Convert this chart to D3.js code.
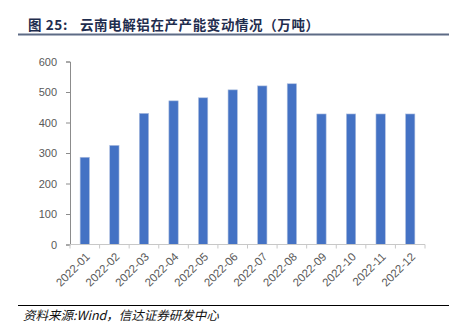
<!DOCTYPE html>
<html>
<head>
<meta charset="utf-8">
<script src="https://cdn.jsdelivr.net/npm/d3@7"></script>
<style>
  html, body { margin: 0; padding: 0; background: #fff; }
  svg { display: block; }
</style>
</head>
<body>
<svg id="chart" width="467" height="326"></svg>
<script>
// Monthly operating capacity of electrolytic aluminium in Yunnan (10k tonnes)
const months = ["2022-01","2022-02","2022-03","2022-04","2022-05","2022-06",
                "2022-07","2022-08","2022-09","2022-10","2022-11","2022-12"];
const capacity = [286, 325, 430, 471, 481, 507, 520, 527, 428, 428, 428, 428];
const yTicks = [0, 100, 200, 300, 400, 500, 600];

const svg = d3.select("#chart");
const cjk = "'Noto Sans CJK SC', 'Noto Sans', sans-serif";
const latin = "'Liberation Sans', Arial, sans-serif";

// Title and rule under it
const title = svg.append("text")
  .attr("x", 28).attr("y", 30)
  .attr("font-family", cjk)
  .attr("font-size", 13.5)
  .attr("font-weight", "bold")
  .attr("fill", "#1f2d4e");
title.append("tspan").attr("letter-spacing", 0.6).text("图 25:");
title.append("tspan").attr("dx", 12).attr("letter-spacing", 0.6)
  .text("云南电解铝在产产能变动情况（万吨）");
svg.append("line")
  .attr("x1", 18).attr("x2", 449).attr("y1", 34.5).attr("y2", 34.5)
  .attr("stroke", "#5d6b85").attr("stroke-width", 2);

// Plot area
const x = d3.scaleBand().domain(months).range([70, 425]).paddingInner(0.685).paddingOuter(0.3425);
const y = d3.scaleLinear().domain([0, 600]).range([244.5, 61.5]);

// Y axis
const yAxis = svg.append("g")
  .attr("transform", "translate(70,0)")
  .call(d3.axisLeft(y).tickValues(yTicks).tickSize(4).tickPadding(9));
yAxis.select(".domain").attr("stroke", "#8c8c8c");
yAxis.selectAll(".tick line").attr("stroke", "#8c8c8c");
yAxis.selectAll(".tick text")
  .attr("font-family", latin).attr("font-size", 11).attr("fill", "#595959");

// Bars
svg.append("g").selectAll("rect")
  .data(capacity)
  .join("rect")
  .attr("x", (d, i) => x(months[i]))
  .attr("width", x.bandwidth())
  .attr("y", d => y(d))
  .attr("height", d => y(0) - y(d))
  .attr("fill", "#4472c4")
  .attr("stroke", "#aebfe0")
  .attr("stroke-width", 0.6);

// X axis with ticks at category boundaries
const step = x.step();
const xAxisG = svg.append("g").attr("transform", `translate(0,${y(0)})`);
xAxisG.append("line")
  .attr("x1", 70).attr("x2", 425).attr("y1", 0).attr("y2", 0)
  .attr("stroke", "#c8c8c8");
const bounds = d3.range(months.length + 1).map(i => 70 + i * step);
xAxisG.selectAll("line.tk")
  .data(bounds)
  .join("line")
  .attr("class", "tk")
  .attr("x1", d => d).attr("x2", d => d)
  .attr("y1", 0).attr("y2", 4)
  .attr("stroke", "#c8c8c8");
xAxisG.selectAll("text.lbl")
  .data(months)
  .join("text")
  .attr("class", "lbl")
  .attr("transform", d => `translate(${x(d) + x.bandwidth() / 2 + 3},${10}) rotate(-45)`)
  .attr("text-anchor", "end")
  .attr("dy", "0.35em")
  .attr("font-family", latin).attr("font-size", 11.5).attr("fill", "#595959")
  .text(d => d);

// Source footer
svg.append("line")
  .attr("x1", 18).attr("x2", 449).attr("y1", 305.5).attr("y2", 305.5)
  .attr("stroke", "#000").attr("stroke-width", 1);
svg.append("text")
  .attr("x", 23).attr("y", 320)
  .attr("font-family", cjk)
  .attr("font-size", 12.5)
  .attr("font-style", "italic")
  .attr("fill", "#111")
  .text("资料来源:Wind，信达证券研发中心");
</script>
</body>
</html>
